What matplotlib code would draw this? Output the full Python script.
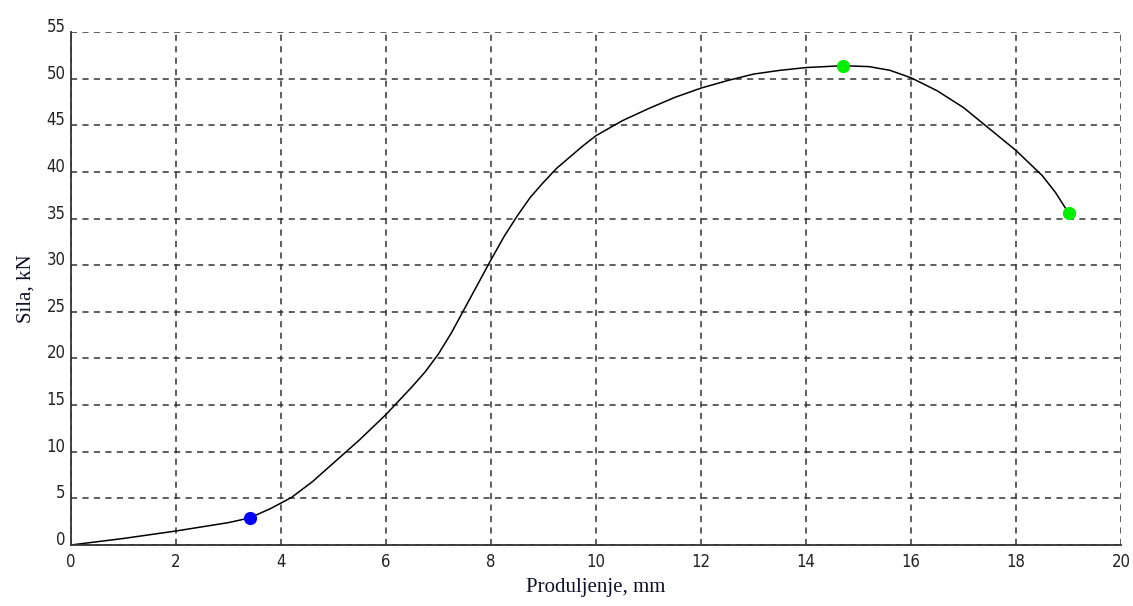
import matplotlib
matplotlib.use("Agg")
import matplotlib.pyplot as plt
import numpy as np

# Data
elong_mm = [0, 1, 2, 3, 3.4, 3.8, 4.2, 4.6, 5, 5.5, 6, 6.5, 6.75, 7, 7.25, 7.5, 7.75, 8,
            8.25, 8.5, 8.75, 9, 9.25, 9.5, 9.75, 10, 10.5, 11, 11.5, 12, 12.5, 13, 13.5,
            14, 14.7, 15.2, 15.6, 16, 16.5, 17, 17.5, 18, 18.5, 18.75, 19]
force_kN = [0, 0.7, 1.5, 2.4, 2.9, 3.9, 5.1, 6.8, 8.8, 11.3, 14.0, 17.0, 18.6, 20.5, 22.8,
            25.4, 28.0, 30.6, 33.1, 35.3, 37.3, 38.9, 40.4, 41.6, 42.8, 43.9, 45.5, 46.8,
            48.0, 49.0, 49.8, 50.5, 50.9, 51.2, 51.4, 51.3, 50.9, 50.1, 48.7, 46.9, 44.6,
            42.3, 39.6, 37.8, 35.6]
blue_point = ([3.4], [2.9])
green_points = ([14.7, 19.0], [51.4, 35.6])

x_ticks = list(range(0, 21, 2))
y_ticks = list(range(0, 56, 5))

fig = plt.figure(figsize=(11.33, 6.06), dpi=100)
ax = fig.add_axes([0.0627, 0.1007, 0.9268, 0.8463])

ax.plot(elong_mm, force_kN, color="black", lw=1.1)
ax.plot(*blue_point, "o", color="#0000ff", ms=8.5, mec="#0000ff")
ax.plot(*green_points, "o", color="#00ee00", ms=8.5, mec="#00ee00", ls="none")

ax.set_xlim(0, 20)
ax.set_ylim(0, 55)
ax.set_xticks(x_ticks)
ax.set_yticks(y_ticks)
ax.grid(True, ls=(0, (4, 3.5)), color="#333333", lw=1.1)
for s in ["top", "right"]:
    ax.spines[s].set_visible(False)
for s in ["left", "bottom"]:
    ax.spines[s].set_linewidth(1.3)
    ax.spines[s].set_color("#333333")
ax.tick_params(length=0, labelsize=12)
ax.tick_params(axis="y", pad=4)
ax.tick_params(axis="x", pad=6)
for lab in ax.get_xticklabels() + ax.get_yticklabels():
    lab.set_family(["DejaVu Sans"])
    lab.set_stretch("condensed")
    lab.set_color("#222222")
for lab in ax.get_yticklabels():
    lab.set_verticalalignment("baseline")
ax.set_xlabel("Produljenje, mm", family="Liberation Serif", fontsize=15, labelpad=5, color="#101028")
ax.set_ylabel("Sila, kN", family="Liberation Serif", fontsize=15, labelpad=8, color="#101028")

fig.savefig("out.png", dpi=100)
